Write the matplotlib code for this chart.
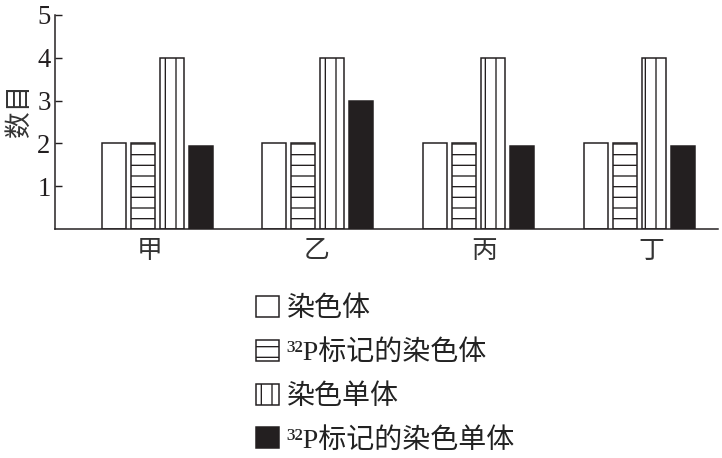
import numpy as np
import matplotlib
matplotlib.use("Agg")
import matplotlib.pyplot as plt
from matplotlib.patches import Patch

# ---- data ----
categories = ["甲", "乙", "丙", "丁"]
chromosome = [2, 2, 2, 2]                 # 染色体
p32_chromosome = [2, 2, 2, 2]             # 32P标记的染色体
chromatid = [4, 4, 4, 4]                  # 染色单体
p32_chromatid = [1.95, 3, 1.95, 1.95]     # 32P标记的染色单体
series_labels = ["染色体", "³²P标记的染色体", "染色单体", "³²P标记的染色单体"]
y_ticks = [1, 2, 3, 4, 5]

DPI = 64
W, H = 722, 458
INK = "#231f20"
plt.rcParams["hatch.linewidth"] = 1.5

fig = plt.figure(figsize=(W / DPI, H / DPI), dpi=DPI)
ax = fig.add_axes([55 / W, (H - 229) / H, 663 / W, 214 / H])

x = np.arange(len(categories))
step = 0.1805
width = 0.149
styles = [
    dict(facecolor="white", hatch=None),
    dict(facecolor="white", hatch="-"),
    dict(facecolor="white", hatch="|"),
    dict(facecolor=INK, hatch=None),
]
series = [chromosome, p32_chromosome, chromatid, p32_chromatid]
for k, (vals, st) in enumerate(zip(series, styles)):
    ax.bar(x + (k - 1.5) * step, vals, width, facecolor=st["facecolor"],
           edgecolor=INK, hatch=st["hatch"], linewidth=1.7)

ax.set_xlim(-0.635, 3.491)
ax.set_ylim(0, 5)
for s in ("top", "right"):
    ax.spines[s].set_visible(False)
for s in ("left", "bottom"):
    ax.spines[s].set_linewidth(1.7)
    ax.spines[s].set_color(INK)

ax.set_yticks(y_ticks)
ax.set_yticklabels([str(t) for t in y_ticks], family="Liberation Serif",
                   fontsize=30, color=INK)
ax.tick_params(axis="y", direction="in", length=7.5, width=1.6, pad=5, colors=INK)

ax.set_xticks(x * 1.0405 - 0.045)
ax.set_xticklabels(categories, family=["Noto Sans CJK SC"], fontsize=29,
                   color="#333333")
ax.tick_params(axis="x", length=0, pad=10)

ax.set_ylabel("数目", family=["Noto Sans CJK SC"], fontsize=30, color="#333333")
ax.yaxis.set_label_coords((33 - 55) / 663, (229 - 110) / 214)

handles = [Patch(facecolor=st["facecolor"], edgecolor=INK, hatch=st["hatch"],
                 linewidth=1.7) for st in styles]
leg = fig.legend(handles, series_labels, loc="upper left",
                 bbox_to_anchor=(256 / W, 1 - 296 / H),
                 frameon=False, borderpad=0, borderaxespad=0,
                 handlelength=0.81, handleheight=0.77, handletextpad=0.28,
                 labelspacing=0.63,
                 prop=dict(family=["Liberation Serif", "Noto Sans CJK SC"], size=31.5))
for t in leg.get_texts():
    t.set_color("#222222")

fig.savefig("out.png", dpi=DPI)
